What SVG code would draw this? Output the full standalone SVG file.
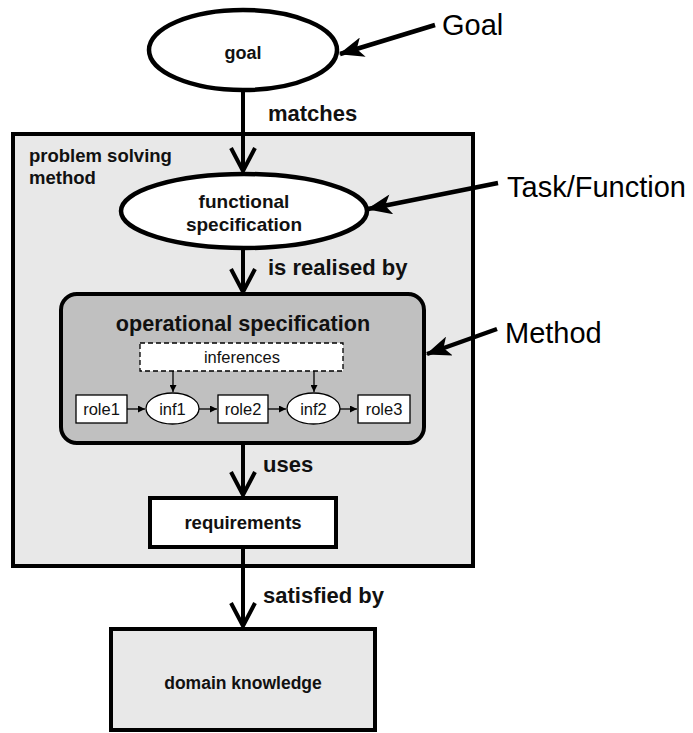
<svg xmlns="http://www.w3.org/2000/svg" width="693" height="733" viewBox="0 0 693 733">
  <defs>
    <marker id="small-head" viewBox="0 0 10 10" refX="10" refY="5" markerWidth="7" markerHeight="7" markerUnits="userSpaceOnUse" orient="auto">
      <path d="M0,0 L10,5 L0,10 Z" fill="#000"/>
    </marker>
    <marker id="pointer-head" viewBox="0 0 20 16" refX="19" refY="8" markerWidth="26" markerHeight="20" markerUnits="userSpaceOnUse" orient="auto">
      <path d="M0,0 L20,8 L0,16 L5,8 Z" fill="#000"/>
    </marker>
  </defs>
  <style>
    .thick { fill: none; stroke: #000; stroke-width: 4; }
    .thin { fill: #fff; stroke: #000; stroke-width: 1.3; }
    .bold { font-family: "Liberation Sans", Arial, sans-serif; font-weight: bold; fill: #111; }
    .reg { font-family: "Liberation Sans", Arial, sans-serif; fill: #111; }
    .small { font-family: "Liberation Sans", Arial, sans-serif; font-size: 16.5px; fill: #111; }
    .flow { font-family: "Liberation Sans", Arial, sans-serif; font-weight: bold; font-size: 22px; fill: #111; }
    .callout { font-family: "Liberation Sans", Arial, sans-serif; font-size: 29px; fill: #000; }
    .chev { fill: none; stroke: #000; stroke-width: 4; stroke-linejoin: miter; }
  </style>

  <rect width="693" height="733" fill="#fff"/>

  <!-- outer container -->
  <g id="psm">
    <rect x="13" y="134" width="460" height="432" fill="#e8e8e8" stroke="#000" stroke-width="4"/>
    <text class="bold" x="29" y="162" font-size="18.5">problem solving</text>
    <text class="bold" x="29" y="184" font-size="18.5">method</text>
  </g>

  <g id="goal">
    <ellipse cx="243" cy="50" rx="94" ry="40" fill="#fff" stroke="#000" stroke-width="4.5"/>
    <text class="bold" x="243" y="59" font-size="18" text-anchor="middle">goal</text>
  </g>

  <g id="functional">
    <ellipse cx="244" cy="211" rx="123" ry="37" fill="#fff" stroke="#000" stroke-width="4.5"/>
    <text class="bold" x="244" y="208" font-size="19" text-anchor="middle">functional</text>
    <text class="bold" x="244" y="231" font-size="19" text-anchor="middle">specification</text>
  </g>

  <g id="operational">
    <rect x="61" y="294" width="363" height="149" rx="16" ry="16" fill="#c0c0c0" stroke="#000" stroke-width="4"/>
    <text class="bold" x="243" y="331" font-size="21.6" text-anchor="middle">operational specification</text>
  </g>

  <g id="inferences">
    <rect x="140" y="343" width="203" height="28" fill="#fff" stroke="#000" stroke-width="1.3" stroke-dasharray="5,3"/>
    <text class="small" x="242" y="363" text-anchor="middle">inferences</text>
  </g>

  <g id="role1">
    <rect class="thin" x="76" y="395" width="51" height="28"/>
    <text class="small" x="101.5" y="415" text-anchor="middle">role1</text>
  </g>
  <g id="inf1">
    <ellipse class="thin" cx="172.5" cy="408.5" rx="26.5" ry="15.5"/>
    <text class="small" x="172.5" y="415" text-anchor="middle">inf1</text>
  </g>
  <g id="role2">
    <rect class="thin" x="218" y="395" width="50" height="28"/>
    <text class="small" x="243" y="415" text-anchor="middle">role2</text>
  </g>
  <g id="inf2">
    <ellipse class="thin" cx="313.5" cy="408.5" rx="26.5" ry="15.5"/>
    <text class="small" x="313.5" y="415" text-anchor="middle">inf2</text>
  </g>
  <g id="role3">
    <rect class="thin" x="358" y="395" width="52" height="28"/>
    <text class="small" x="384" y="415" text-anchor="middle">role3</text>
  </g>

  <g id="requirements">
    <rect x="150" y="498" width="186" height="49" fill="#fff" stroke="#000" stroke-width="4"/>
    <text class="bold" x="243" y="529" font-size="18.5" text-anchor="middle">requirements</text>
  </g>

  <g id="domain">
    <rect x="111" y="629" width="264" height="101" fill="#e8e8e8" stroke="#000" stroke-width="4"/>
    <text class="bold" x="243" y="689" font-size="17.5" text-anchor="middle">domain knowledge</text>
  </g>

  <!-- callout labels -->
  <g id="labels">
    <text class="callout" x="442" y="35">Goal</text>
    <text class="callout" x="507" y="197">Task/Function</text>
    <text class="callout" x="505" y="343">Method</text>
  </g>

  <g id="connectors">
    <!-- main flow -->
    <line class="thick" x1="243" y1="90" x2="243" y2="171"/>
    <polyline class="chev" points="231,148 243,171 255,148"/>
    <text class="flow" x="268" y="121">matches</text>

    <line class="thick" x1="243" y1="248" x2="243" y2="292"/>
    <polyline class="chev" points="231,269 243,292 255,269"/>
    <text class="flow" x="268" y="275">is realised by</text>

    <line class="thick" x1="243" y1="443" x2="243" y2="495"/>
    <polyline class="chev" points="231,472 243,495 255,472"/>
    <text class="flow" x="263" y="472">uses</text>

    <line class="thick" x1="243" y1="547" x2="243" y2="626"/>
    <polyline class="chev" points="231,603 243,626 255,603"/>
    <text class="flow" x="263" y="603">satisfied by</text>

    <!-- inference links -->
    <line x1="173" y1="371" x2="173" y2="392" stroke="#000" stroke-width="1.3" marker-end="url(#small-head)"/>
    <line x1="314" y1="371" x2="314" y2="392" stroke="#000" stroke-width="1.3" marker-end="url(#small-head)"/>
    <line x1="127" y1="409" x2="145" y2="409" stroke="#000" stroke-width="1.3" marker-end="url(#small-head)"/>
    <line x1="199" y1="409" x2="217" y2="409" stroke="#000" stroke-width="1.3" marker-end="url(#small-head)"/>
    <line x1="268" y1="409" x2="286" y2="409" stroke="#000" stroke-width="1.3" marker-end="url(#small-head)"/>
    <line x1="340" y1="409" x2="357" y2="409" stroke="#000" stroke-width="1.3" marker-end="url(#small-head)"/>

    <!-- callout pointers -->
    <line x1="435" y1="25" x2="340" y2="54" stroke="#000" stroke-width="4.5" marker-end="url(#pointer-head)"/>
    <line x1="498" y1="183" x2="368" y2="209" stroke="#000" stroke-width="4.5" marker-end="url(#pointer-head)"/>
    <line x1="497" y1="329" x2="427" y2="354" stroke="#000" stroke-width="4.5" marker-end="url(#pointer-head)"/>
  </g>
</svg>
